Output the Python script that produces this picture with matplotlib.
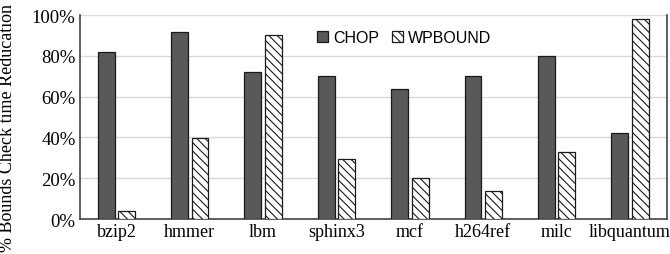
import numpy as np
import matplotlib
matplotlib.use("Agg")
import matplotlib.pyplot as plt

benchmarks = ['bzip2', 'hmmer', 'lbm', 'sphinx3', 'mcf', 'h264ref', 'milc', 'libquantum']
chop = [82, 91.5, 72, 70, 63.7, 70, 80, 42]
wpbound = [4, 39.5, 90, 29.6, 20, 14, 33, 98]

plt.rcParams['hatch.linewidth'] = 0.8

fig = plt.figure(figsize=(6.7, 2.55), dpi=100)
ax = fig.add_axes([0.119, 0.137, 0.876, 0.8])

x = np.arange(len(benchmarks))
w = 0.23
ax.bar(x - 0.14, chop, w, color='#595959', edgecolor='#1a1a1a', linewidth=0.9, label='CHOP', zorder=3)
ax.bar(x + 0.14, wpbound, w, color='white', edgecolor='#1a1a1a', linewidth=0.9,
       hatch='\\\\\\\\', label='WPBOUND', zorder=3)

ax.set_xlim(-0.5, len(benchmarks) - 0.5)
ax.set_ylim(0, 100)
ax.set_yticks([0, 20, 40, 60, 80, 100])
ax.set_yticklabels(['0%', '20%', '40%', '60%', '80%', '100%'])
ax.set_xticks(x)
ax.set_xticklabels(benchmarks)
ax.yaxis.grid(True, color='#d9d9d9', linewidth=1, zorder=0)
ax.tick_params(axis='x', length=0, labelsize=13, pad=3)
ax.tick_params(axis='y', length=0, labelsize=13.5, pad=3)
for lab in ax.get_xticklabels() + ax.get_yticklabels():
    lab.set_family('Liberation Serif')

ax.spines['top'].set_visible(False)
for s in ['left', 'bottom', 'right']:
    ax.spines[s].set_color('#444444')
    ax.spines[s].set_linewidth(1.2)

ax.set_ylabel('% Bounds Check time Reducation', family='Liberation Serif', fontsize=13)
ax.yaxis.set_label_coords(-0.109, 0.45)

ax.legend(loc='upper center', bbox_to_anchor=(0.553, 0.995), ncol=2, frameon=False,
          prop={'family': 'Liberation Sans', 'size': 11.5}, handlelength=0.7, handleheight=0.7,
          handletextpad=0.3, columnspacing=0.8)

fig.savefig('out.png', dpi=100)
